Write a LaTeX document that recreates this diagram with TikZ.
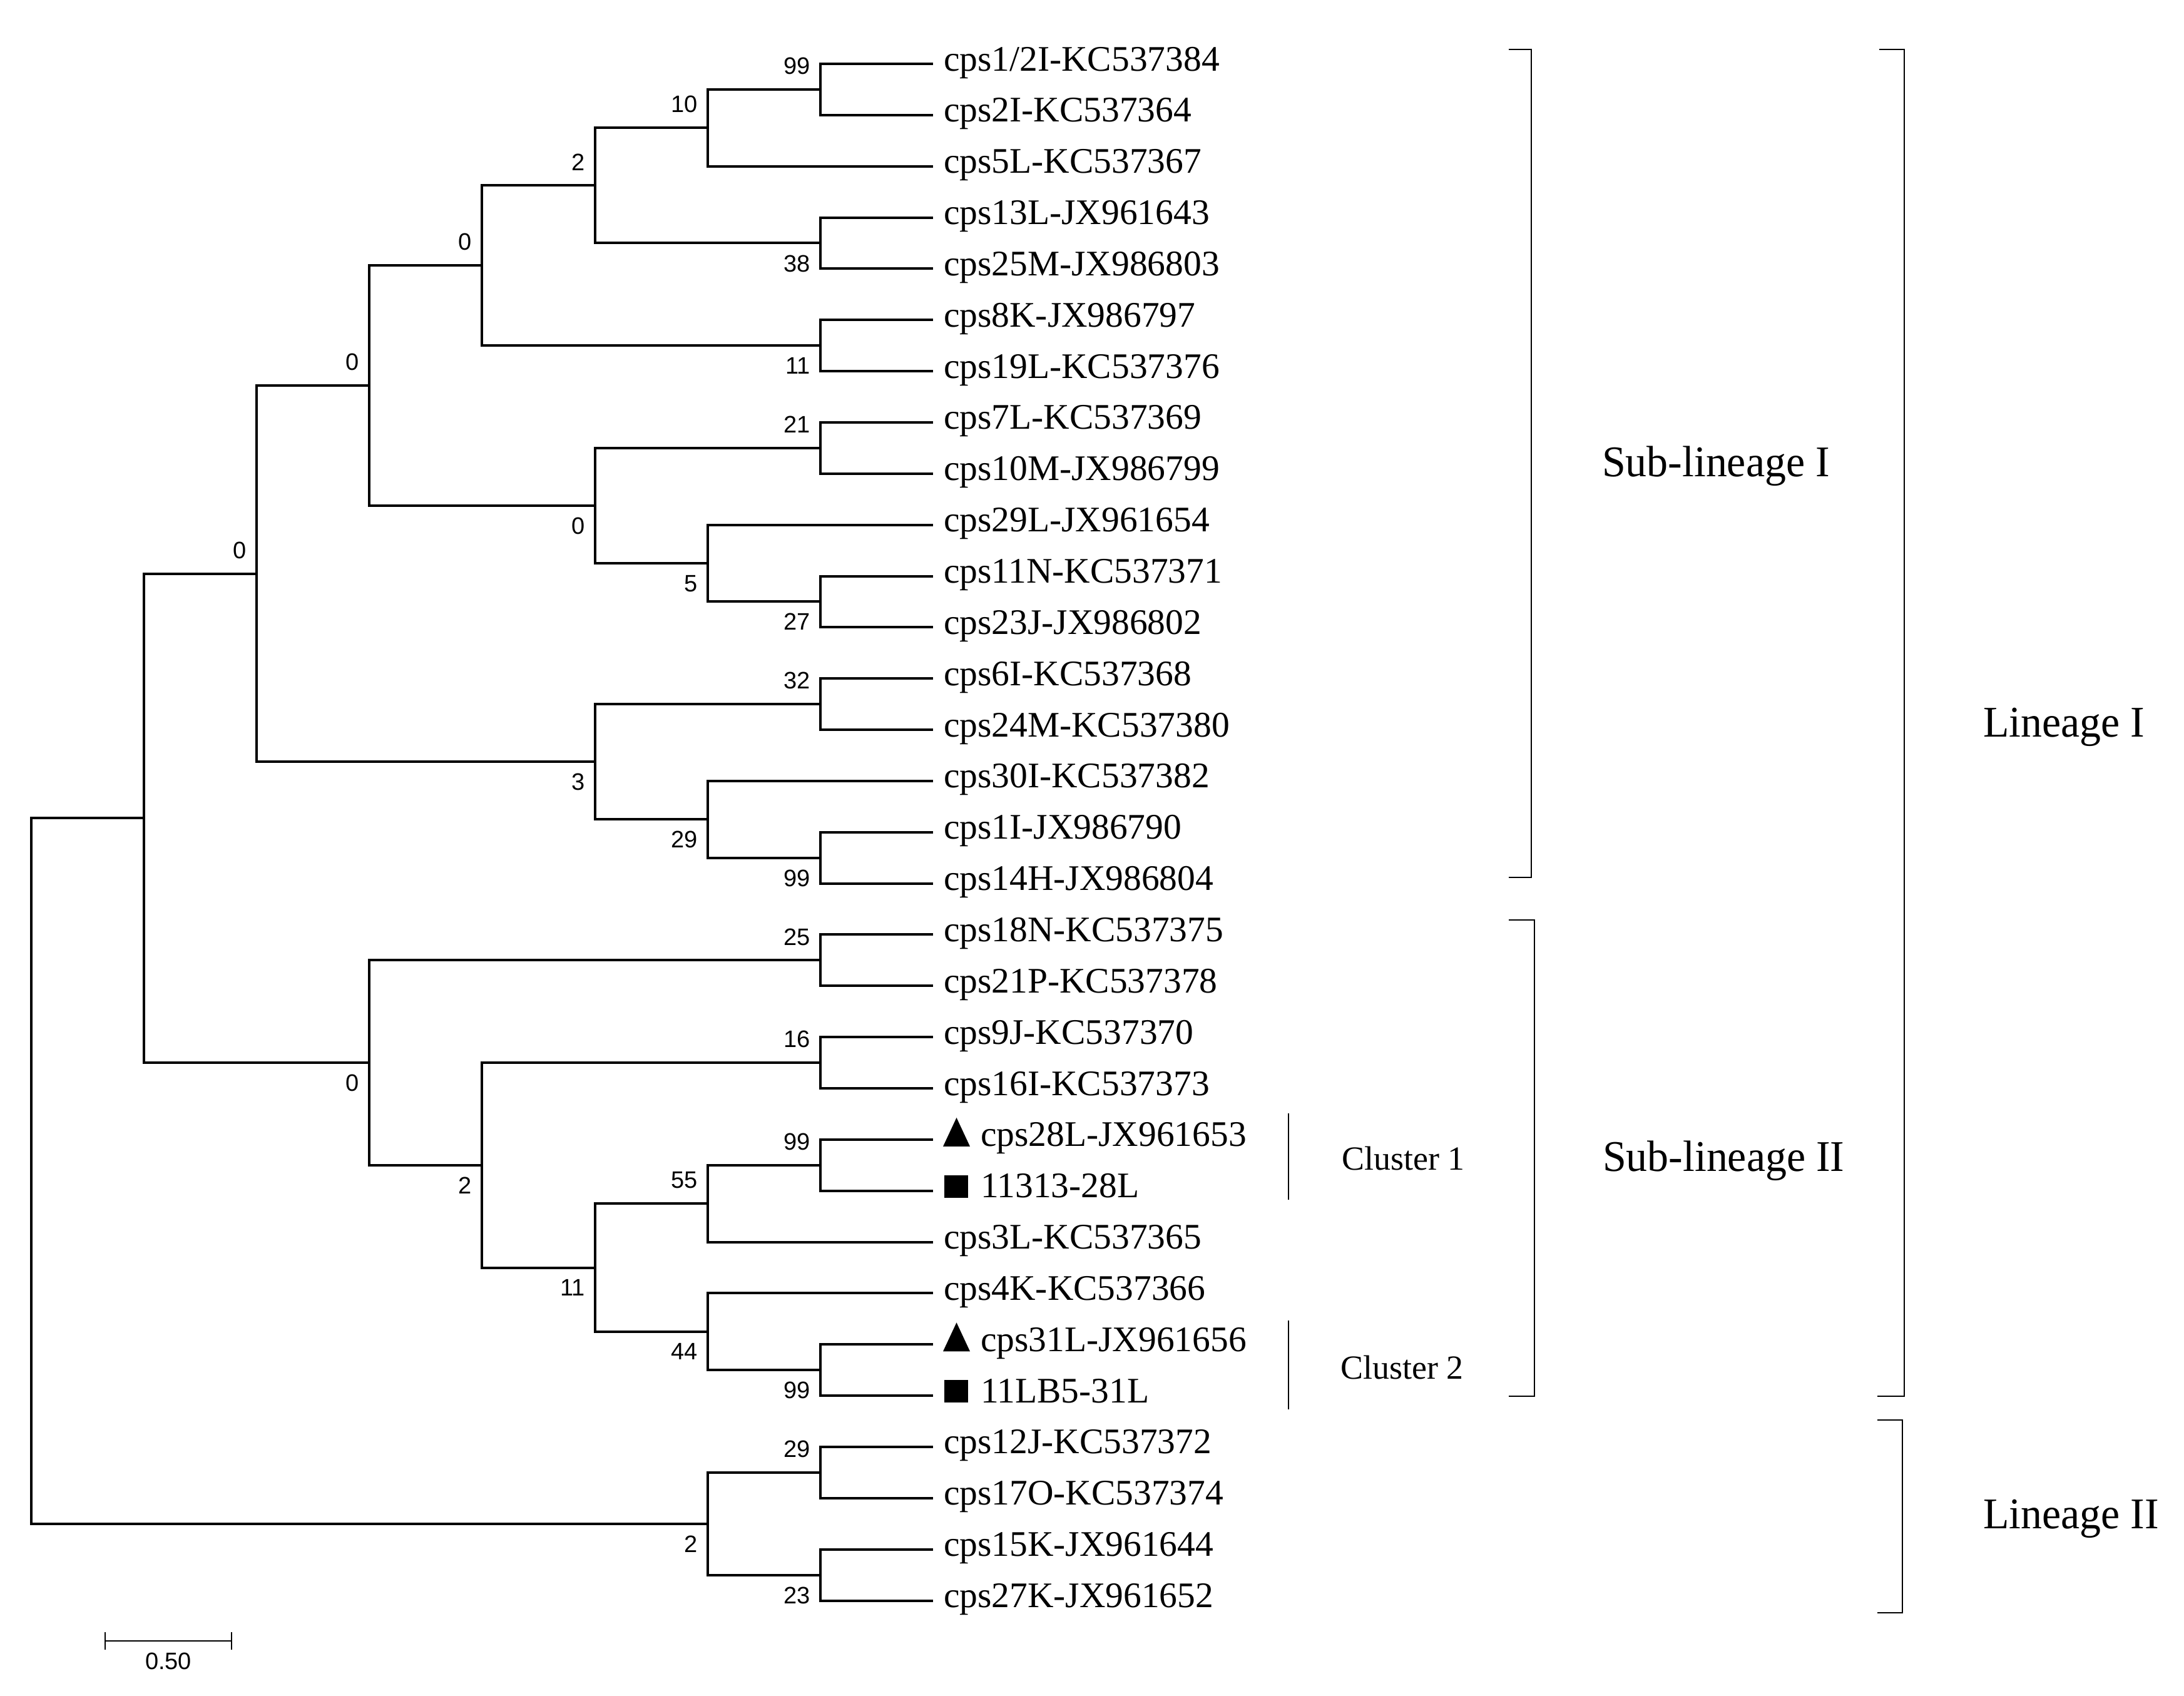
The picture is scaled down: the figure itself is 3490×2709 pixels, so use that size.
\documentclass[tikz,border=0pt]{standalone}
\usepackage{fontspec}
\setmainfont{Liberation Serif}
\newfontfamily\sansf{Liberation Sans}
\newcommand\ly[1]{102+81.85*#1}
\begin{document}
\begin{tikzpicture}[x=0.2pt, y=-0.2pt,
  tree/.style={line width=0.8pt, line join=miter},
  brk/.style={line width=0.5pt, line join=miter},
  clus/.style={line width=0.4pt},
  bsa/.style={anchor=south east, inner sep=0pt, xshift=-3pt, yshift=4.6pt, font=\sansf\fontsize{7.6}{9}\selectfont},
  bsb/.style={anchor=north east, inner sep=0pt, xshift=-3pt, yshift=-3.6pt, font=\sansf\fontsize{7.6}{9}\selectfont},
  leaf/.style={anchor=base west, inner sep=0pt, xshift=3.2pt, yshift=-2.2pt, font=\fontsize{11.5}{13}\selectfont},
  leafm/.style={leaf, xshift=11.8pt},
  big/.style={anchor=base west, inner sep=0pt, xscale=0.97, font=\fontsize{14}{16}\selectfont},
  clab/.style={anchor=base west, inner sep=0pt, font=\fontsize{10.8}{12}\selectfont}]
\useasboundingbox (0,0) rectangle (3490,2709);
% internal nodes
\coordinate (R)   at (50,\ly{21.61328});
\coordinate (N1)  at (230,\ly{14.72656});
\coordinate (LII) at (1131,\ly{28.5});
\coordinate (SI)  at (410,\ly{9.953125});
\coordinate (SII) at (590,\ly{19.5});
\coordinate (Na)  at (590,\ly{6.28125});
\coordinate (Nb)  at (951,\ly{13.625});
\coordinate (Nc)  at (770,\ly{3.9375});
\coordinate (Nd)  at (951,\ly{8.625});
\coordinate (Ne)  at (951,\ly{2.375});
\coordinate (Nf)  at (1311,\ly{5.5});
\coordinate (Ng)  at (1131,\ly{1.25});
\coordinate (Nh)  at (1311,\ly{3.5});
\coordinate (Ni)  at (1311,\ly{0.5});
\coordinate (Nj)  at (1311,\ly{7.5});
\coordinate (Nk)  at (1131,\ly{9.75});
\coordinate (Nl)  at (1311,\ly{10.5});
\coordinate (Nm)  at (1311,\ly{12.5});
\coordinate (Nn)  at (1131,\ly{14.75});
\coordinate (No)  at (1311,\ly{15.5});
\coordinate (Np)  at (1311,\ly{17.5});
\coordinate (Nq)  at (770,\ly{21.5});
\coordinate (Nr)  at (1311,\ly{19.5});
\coordinate (Ns)  at (951,\ly{23.5});
\coordinate (Nt)  at (1131,\ly{22.25});
\coordinate (Nu)  at (1131,\ly{24.75});
\coordinate (Nv)  at (1311,\ly{21.5});
\coordinate (Nw)  at (1311,\ly{25.5});
\coordinate (Nx)  at (1311,\ly{27.5});
\coordinate (Ny)  at (1311,\ly{29.5});
% leaf ends
\foreach \i in {0,...,30} { \coordinate (L\i) at (1491,\ly{\i}); }
% branches
\foreach \p/\c in {R/N1,R/LII,N1/SI,N1/SII,SI/Na,SI/Nb,Na/Nc,Na/Nd,Nc/Ne,Nc/Nf,
  Ne/Ng,Ne/Nh,Ng/Ni,Ng/L2,Ni/L0,Ni/L1,Nh/L3,Nh/L4,Nf/L5,Nf/L6,
  Nd/Nj,Nd/Nk,Nj/L7,Nj/L8,Nk/L9,Nk/Nl,Nl/L10,Nl/L11,
  Nb/Nm,Nb/Nn,Nm/L12,Nm/L13,Nn/L14,Nn/No,No/L15,No/L16,
  SII/Np,SII/Nq,Np/L17,Np/L18,Nq/Nr,Nq/Ns,Nr/L19,Nr/L20,
  Ns/Nt,Ns/Nu,Nt/Nv,Nt/L23,Nv/L21,Nv/L22,Nu/L24,Nu/Nw,Nw/L25,Nw/L26,
  LII/Nx,LII/Ny,Nx/L27,Nx/L28,Ny/L29,Ny/L30}
  { \draw[tree] (\p) |- (\c); }
% bootstrap values
\node[bsa] (b1) at (Ni) {99};
\node[bsa] (b2) at (Ng) {10};
\node[bsa] (b3) at (Ne) {2};
\node[bsa] (b4) at (Nc) {0};
\node[bsa] (b5) at (Na) {0};
\node[bsa] (b6) at (SI) {0};
\node[bsb] (b7) at (Nh) {38};
\node[bsb] (b8) at (Nf) {11};
\node[bsa] (b9) at (Nj) {21};
\node[bsb] (b10) at (Nd) {0};
\node[bsb] (b11) at (Nk) {5};
\node[bsb] (b12) at (Nl) {27};
\node[bsa] (b13) at (Nm) {32};
\node[bsb] (b14) at (Nb) {3};
\node[bsb] (b15) at (Nn) {29};
\node[bsb] (b16) at (No) {99};
\node[bsa] (b17) at (Np) {25};
\node[bsb] (b18) at (SII) {0};
\node[bsa] (b19) at (Nr) {16};
\node[bsb] (b20) at (Nq) {2};
\node[bsa] (b21) at (Nv) {99};
\node[bsa] (b22) at (Nt) {55};
\node[bsb] (b23) at (Ns) {11};
\node[bsb] (b24) at (Nu) {44};
\node[bsb] (b25) at (Nw) {99};
\node[bsa] (b26) at (Nx) {29};
\node[bsb] (b27) at (LII) {2};
\node[bsb] (b28) at (Ny) {23};
% leaf labels
\node[leaf] (t0) at (L0) {cps1/2I-KC537384};
\node[leaf] (t1) at (L1) {cps2I-KC537364};
\node[leaf] (t2) at (L2) {cps5L-KC537367};
\node[leaf] (t3) at (L3) {cps13L-JX961643};
\node[leaf] (t4) at (L4) {cps25M-JX986803};
\node[leaf] (t5) at (L5) {cps8K-JX986797};
\node[leaf] (t6) at (L6) {cps19L-KC537376};
\node[leaf] (t7) at (L7) {cps7L-KC537369};
\node[leaf] (t8) at (L8) {cps10M-JX986799};
\node[leaf] (t9) at (L9) {cps29L-JX961654};
\node[leaf] (t10) at (L10) {cps11N-KC537371};
\node[leaf] (t11) at (L11) {cps23J-JX986802};
\node[leaf] (t12) at (L12) {cps6I-KC537368};
\node[leaf] (t13) at (L13) {cps24M-KC537380};
\node[leaf] (t14) at (L14) {cps30I-KC537382};
\node[leaf] (t15) at (L15) {cps1I-JX986790};
\node[leaf] (t16) at (L16) {cps14H-JX986804};
\node[leaf] (t17) at (L17) {cps18N-KC537375};
\node[leaf] (t18) at (L18) {cps21P-KC537378};
\node[leaf] (t19) at (L19) {cps9J-KC537370};
\node[leaf] (t20) at (L20) {cps16I-KC537373};
\node[leafm] (t21) at (L21) {cps28L-JX961653};
\node[leafm] (t22) at (L22) {11313-28L};
\node[leaf] (t23) at (L23) {cps3L-KC537365};
\node[leaf] (t24) at (L24) {cps4K-KC537366};
\node[leafm] (t25) at (L25) {cps31L-JX961656};
\node[leafm] (t26) at (L26) {11LB5-31L};
\node[leaf] (t27) at (L27) {cps12J-KC537372};
\node[leaf] (t28) at (L28) {cps17O-KC537374};
\node[leaf] (t29) at (L29) {cps15K-JX961644};
\node[leaf] (t30) at (L30) {cps27K-JX961652};
% markers
\fill[shift={(L21)}] (16,11) -- (59,11) -- (37.5,-35) -- cycle;
\fill[shift={(L25)}] (16,11) -- (59,11) -- (37.5,-35) -- cycle;
\fill[shift={(L22)}] (18,11) rectangle (56,-25);
\fill[shift={(L26)}] (18,11) rectangle (56,-25);
% cluster marks
\draw[clus] (2059,1779) -- (2059,1917);
\draw[clus] (2059,2110) -- (2059,2252);
\node[clab] (c1) at (2143,1869) {Cluster 1};
\node[clab] (c2) at (2141,2203) {Cluster 2};
% brackets
\draw[brk] (2411,79) -- (2447,79) -- (2447,1402) -- (2411,1402);
\draw[brk] (2411,1470) -- (2452,1470) -- (2452,2231) -- (2411,2231);
\draw[brk] (3003,79) -- (3043,79) -- (3043,2231) -- (3000,2231);
\draw[brk] (3000,2269) -- (3040,2269) -- (3040,2577) -- (3000,2577);
\node[big] (s1) at (2559,761) {Sub-lineage I};
\node[big] (s2) at (2560,1871) {Sub-lineage II};
\node[big] (g1) at (3168,1177) {Lineage I};
\node[big] (g2) at (3168,2442) {Lineage II};
% scale bar
\coordinate (sb1) at (168,2622);
\coordinate (sb2) at (370,2622);
\draw[brk] (sb1) -- (sb2);
\draw[brk] (168,2608) -- (168,2636);
\draw[brk] (370,2608) -- (370,2636);
\node[anchor=north, inner sep=0pt, font=\sansf\fontsize{7.6}{9}\selectfont] (sbl) at (269,2640) {0.50};
\end{tikzpicture}
\end{document}
